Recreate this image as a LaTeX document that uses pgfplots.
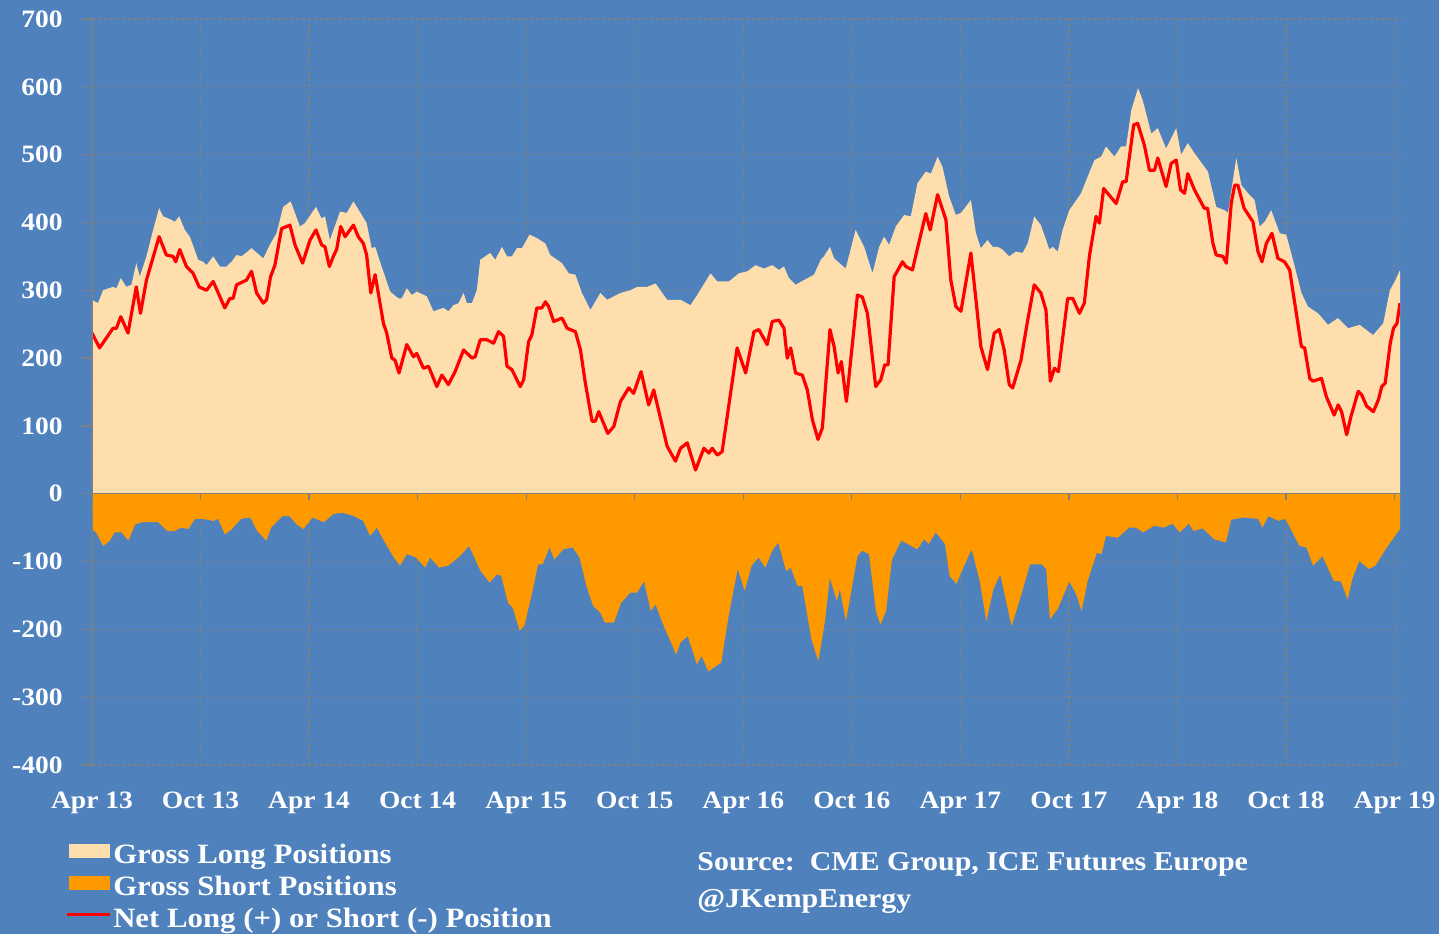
\documentclass[border=0pt]{standalone}
\usepackage{pgfplots}
\pgfplotsset{compat=1.18}
\usepackage{fontspec}
\setmainfont{Liberation Serif}[FakeStretch=1.1]
\definecolor{bg}{RGB}{79,129,189}
\definecolor{longc}{RGB}{255,222,173}
\definecolor{shortc}{RGB}{255,153,0}
\definecolor{gridc}{RGB}{128,128,128}
\newcommand{\lab}{\fontsize{12.5bp}{15bp}\selectfont\bfseries}
\newcommand{\leg}{\fontsize{14bp}{16bp}\selectfont\bfseries}
\newcommand{\src}{\fontsize{13.6bp}{16bp}\selectfont\bfseries}

\pgfplotstableread{
x y
0.00 286
0.33 281
0.61 300
1.16 305
1.35 303
1.59 318
1.90 305
2.18 308
2.45 340
2.64 320
3.01 350
3.38 389
3.71 421
3.93 409
4.30 405
4.58 401
4.82 409
5.13 389
5.41 379
5.87 345
6.14 342
6.33 337
6.70 350
7.07 335
7.44 335
7.71 342
7.99 352
8.27 350
8.82 362
9.47 347
9.83 367
10.20 384
10.57 423
10.98 431
11.22 414
11.49 394
11.77 399
12.38 423
12.69 406
12.88 409
13.15 374
13.71 416
14.08 414
14.45 431
14.91 411
15.18 399
15.46 362
15.65 364
16.01 335
16.48 298
16.94 288
17.12 288
17.40 303
17.68 293
17.95 298
18.51 291
18.87 269
19.43 274
19.70 269
19.98 278
20.26 281
20.54 296
20.72 281
21.00 281
21.27 300
21.46 345
22.01 355
22.29 345
22.66 364
22.94 350
23.21 350
23.49 362
23.76 362
24.19 382
24.59 377
25.06 369
25.33 352
25.98 340
26.35 325
26.72 323
27.08 296
27.55 271
28.10 296
28.47 286
28.84 291
29.21 296
29.76 300
30.13 305
30.68 305
31.15 310
31.42 300
31.79 286
32.53 286
33.08 278
33.45 293
33.73 305
34.19 325
34.56 313
35.20 313
35.76 325
36.22 328
36.68 337
37.14 332
37.60 337
37.97 330
38.25 335
38.52 318
38.89 308
39.35 315
39.91 323
40.28 345
40.46 350
40.79 364
41.02 347
41.66 332
42.21 389
42.68 364
43.14 325
43.51 364
43.78 379
44.06 367
44.43 394
44.89 411
45.26 409
45.63 458
46.09 475
46.37 472
46.74 497
47.01 482
47.38 438
47.75 411
48.03 414
48.58 433
48.86 384
49.13 362
49.50 374
49.78 364
50.06 364
50.33 360
50.70 350
51.07 357
51.44 355
51.72 369
52.08 409
52.45 396
52.92 360
53.10 364
53.38 357
53.65 389
54.02 418
54.67 443
55.04 468
55.41 492
55.78 497
56.05 512
56.51 497
56.88 512
57.16 512
57.45 566
57.82 598
58.08 580
58.55 531
58.91 539
59.37 509
59.93 539
60.20 500
60.57 517
60.94 502
61.68 475
62.14 423
62.60 418
62.79 414
63.25 495
63.53 455
63.90 443
64.26 433
64.54 394
64.82 401
65.18 418
65.65 384
66.01 382
66.48 335
66.85 296
67.21 276
67.77 266
68.32 249
68.87 259
69.43 244
70.07 249
70.81 234
71.37 251
71.74 300
72.01 313
72.30 330
}\longtab

\pgfplotstableread{
x y
0.00 -52
0.23 -57
0.61 -77
0.99 -69
1.25 -57
1.63 -57
2.01 -69
2.39 -45
2.77 -42
3.66 -42
4.17 -55
4.55 -55
4.94 -50
5.32 -52
5.70 -37
6.08 -37
6.72 -40
6.97 -37
7.35 -60
7.74 -52
8.24 -37
8.75 -35
9.13 -55
9.64 -69
9.90 -50
10.53 -33
10.92 -33
11.30 -45
11.68 -52
12.19 -35
12.82 -42
13.33 -30
13.84 -28
14.48 -33
14.99 -40
15.37 -62
15.75 -50
16.13 -69
16.64 -92
17.02 -106
17.40 -89
17.91 -94
18.42 -109
18.68 -94
19.19 -109
19.69 -106
20.33 -92
20.84 -77
21.48 -114
21.98 -131
22.37 -119
22.62 -121
23.00 -161
23.26 -168
23.64 -202
23.89 -195
24.27 -153
24.66 -104
24.91 -104
25.29 -79
25.55 -97
26.06 -82
26.56 -79
26.95 -94
27.33 -136
27.71 -166
28.09 -175
28.35 -190
28.85 -190
29.24 -161
29.75 -146
30.13 -146
30.51 -129
30.89 -173
31.15 -163
31.53 -190
32.29 -237
32.54 -219
32.93 -210
33.44 -252
33.69 -239
34.07 -262
34.78 -249
35.19 -180
35.69 -111
36.08 -143
36.46 -106
36.84 -94
37.22 -109
37.60 -84
37.93 -72
38.37 -114
38.62 -109
39.00 -136
39.26 -136
39.77 -215
40.15 -247
40.53 -185
40.78 -124
41.17 -158
41.34 -141
41.67 -188
42.31 -92
42.56 -84
42.95 -89
43.33 -173
43.58 -193
43.89 -173
44.22 -97
44.73 -69
45.62 -82
46.00 -67
46.25 -74
46.64 -57
47.15 -74
47.40 -121
47.78 -133
48.16 -109
48.62 -82
49.05 -126
49.44 -188
49.82 -141
50.20 -119
50.83 -195
51.34 -151
51.85 -104
52.49 -104
52.74 -111
52.95 -185
53.38 -170
54.02 -129
54.40 -148
54.70 -173
55.03 -129
55.54 -87
55.80 -89
56.05 -62
56.69 -65
57.32 -50
57.71 -50
58.09 -57
58.72 -47
59.23 -50
59.74 -44
60.12 -57
60.63 -44
60.89 -55
61.39 -51
62.03 -67
62.67 -72
62.97 -38
63.68 -35
64.45 -37
64.70 -50
65.01 -33
65.59 -40
65.97 -37
66.74 -77
67.12 -79
67.50 -106
68.01 -92
68.65 -129
69.03 -129
69.41 -156
69.66 -126
70.05 -99
70.56 -111
70.94 -106
71.57 -79
72.30 -52
}\shorttab

\pgfplotstableread{
x y
0.00 237
0.42 215
1.16 244
1.35 244
1.59 261
1.99 237
2.45 305
2.68 266
3.01 315
3.71 379
4.11 352
4.48 350
4.63 342
4.85 360
5.22 335
5.59 325
5.92 305
6.33 300
6.70 313
7.34 274
7.62 288
7.80 288
7.99 308
8.54 315
8.82 328
9.10 296
9.47 281
9.65 286
9.87 320
10.11 337
10.48 391
10.94 396
11.22 367
11.64 340
12.05 374
12.38 389
12.69 367
12.88 364
13.12 335
13.34 350
13.52 360
13.75 394
13.99 379
14.45 396
14.72 379
15.00 369
15.18 352
15.41 296
15.65 323
16.11 251
16.29 237
16.57 200
16.75 197
16.97 178
17.40 220
17.77 202
17.95 207
18.32 185
18.60 188
19.06 158
19.34 175
19.70 161
20.07 180
20.54 212
21.00 200
21.18 202
21.46 227
21.83 227
22.20 222
22.47 239
22.75 232
22.94 188
23.21 183
23.67 158
23.86 168
24.13 224
24.31 234
24.59 274
24.87 274
25.06 283
25.24 276
25.52 254
25.98 259
26.26 244
26.72 239
27.00 212
27.27 163
27.64 107
27.82 107
28.01 121
28.51 89
28.84 99
29.21 136
29.67 156
29.94 148
30.35 180
30.77 131
31.05 153
31.79 70
32.25 48
32.53 67
32.90 75
33.36 35
33.82 67
34.10 60
34.28 67
34.56 57
34.83 62
35.66 215
36.13 178
36.59 239
36.86 242
37.32 220
37.60 254
37.97 256
38.25 244
38.43 200
38.62 215
38.89 178
39.26 175
39.54 153
39.82 109
40.13 80
40.37 97
40.79 242
41.02 217
41.24 178
41.42 195
41.70 136
42.31 293
42.58 290
42.86 266
43.32 158
43.60 168
43.82 190
44.00 190
44.34 320
44.80 342
44.98 335
45.35 330
45.63 362
46.09 413
46.33 389
46.74 441
47.20 404
47.47 315
47.75 276
48.03 269
48.58 355
48.86 286
49.13 217
49.50 183
49.87 237
50.15 242
50.42 212
50.70 161
50.89 156
51.35 197
51.72 256
52.08 308
52.45 296
52.73 271
52.97 166
53.20 185
53.42 180
53.93 288
54.21 288
54.58 266
54.85 281
55.13 350
55.50 409
55.68 399
55.92 450
56.61 428
56.97 460
57.16 460
57.58 544
57.80 546
58.17 514
58.45 477
58.73 477
58.91 495
59.37 453
59.65 487
59.93 492
60.17 448
60.39 443
60.57 472
60.94 448
61.48 421
61.66 421
61.96 369
62.14 352
62.51 350
62.70 340
62.97 428
63.16 455
63.34 455
63.68 421
64.17 401
64.45 357
64.67 342
64.91 369
65.22 384
65.55 347
65.92 342
66.20 330
66.85 217
67.03 215
67.31 170
67.49 166
67.96 170
68.23 143
68.66 116
68.88 131
69.07 121
69.35 87
69.59 114
69.99 151
70.18 146
70.46 129
70.83 121
71.11 139
71.29 158
71.48 163
71.76 222
71.94 244
72.13 251
72.30 281
}\nettab

\begin{document}
\begin{tikzpicture}
\fill[bg] (-46bp,-84.5bp) rectangle (673.5bp,382.5bp);
\useasboundingbox (-46bp,-84.5bp) rectangle (673.5bp,382.5bp);
\clip (-46bp,-84.5bp) rectangle (673.5bp,382.5bp);
\begin{axis}[
  at={(0,0)}, anchor=south west,
  scale only axis, width=654bp, height=373bp,
  xmin=0, xmax=72.3, ymin=-400, ymax=700,
  axis line style={draw=none},
  xtick={0,6,...,72},
  xticklabels={Apr 13,Oct 13,Apr 14,Oct 14,Apr 15,Oct 15,Apr 16,Oct 16,Apr 17,Oct 17,Apr 18,Oct 18,Apr 19},
  ytick={-400,-300,...,700},
  grid=major,
  major grid style={gridc, dash pattern=on 1.5bp off 1.5bp, line width=0.6bp},
  xtick pos=bottom, ytick pos=left,
  xtick style={draw=none},
  ytick style={gridc, line width=0.6bp},
  tick align=outside, major tick length=5bp,
  ticklabel style={font=\lab, text=white},
  yticklabel style={/pgf/number format/assume math mode=true, /pgf/number format/1000 sep={}, anchor=east, inner sep=0pt, xshift=-9.5bp},
  xticklabel style={anchor=base, inner sep=0pt, yshift=-16.5bp},
  legend style={at={(axis description cs:-0.0206,-0.1059)}, anchor=north west,
    draw=none, fill=none, inner sep=0pt, row sep=3.25bp, column sep=0.8bp,
    nodes={inner sep=0pt, text=white, font=\leg, text height=9.5bp, text depth=3bp}},
  legend cell align=left,
]
\addplot[fill=longc, draw=none,
  legend image code/.code={\fill[longc] (0bp,-0.5bp) rectangle (20.5bp,6.5bp);}]
  table[x=x,y=y] {\longtab} \closedcycle;
\addlegendentry{Gross Long Positions}
\addplot[fill=shortc, draw=none,
  legend image code/.code={\fill[shortc] (0bp,-0.5bp) rectangle (20.5bp,6.5bp);}]
  table[x=x,y=y] {\shorttab} \closedcycle;
\addlegendentry{Gross Short Positions}
\addplot[red, line width=1.6bp, line join=round,
  legend image code/.code={\draw[red, line width=1.6bp] (-1bp,3bp) -- (20.5bp,3bp);}]
  table[x=x,y=y] {\nettab};
\addlegendentry{Net Long (+) or Short (-) Position}
\draw[gridc, line width=0.6bp] (axis cs:0,0) -- (axis cs:72.3,0);
\draw[gridc, line width=0.6bp] (axis cs:0,-400) -- (axis cs:0,700);
\pgfplotsinvokeforeach{6,12,...,72}{\draw[gridc, line width=0.6bp] (axis cs:#1,0) -- (axis cs:#1,-9);}
\end{axis}
\node[anchor=base west, inner sep=0pt, text=white, font=\src] at (302.5bp,-52.5bp) {Source:\ \ CME Group, ICE Futures Europe};
\node[anchor=base west, inner sep=0pt, text=white, font=\src] at (302.5bp,-71bp) {@JKempEnergy};
\end{tikzpicture}
\end{document}
